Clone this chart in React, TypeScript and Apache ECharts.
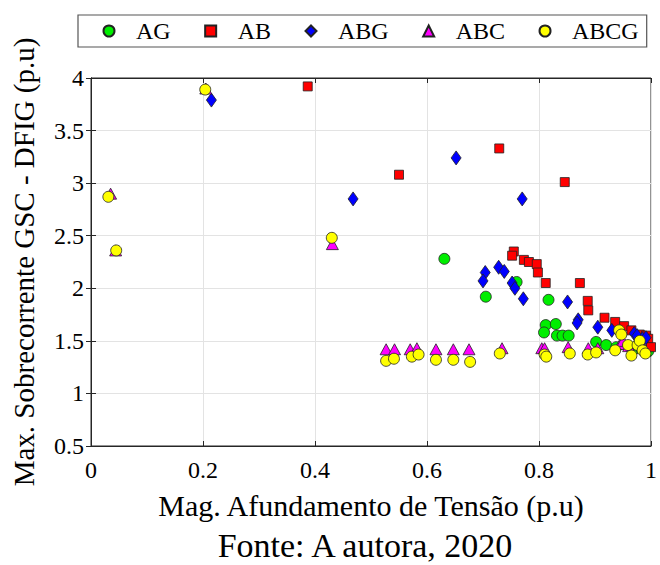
import React, { useEffect, useRef } from "react";
import * as echarts from "echarts";

const seriesNames = ["AG", "AB", "ABG", "ABC", "ABCG"];

const agData = [
  [0.631, 2.28], [0.705, 1.92], [0.76, 2.06], [0.817, 1.89], [0.812, 1.65],
  [0.809, 1.58], [0.83, 1.66], [0.832, 1.55], [0.842, 1.55], [0.853, 1.55],
  [0.902, 1.49], [0.92, 1.46], [0.938, 1.44], [0.96, 1.45], [0.975, 1.43],
  [0.988, 1.41], [0.995, 1.4],
];

const abData = [
  [0.387, 3.92], [0.55, 3.08], [0.729, 3.33], [0.846, 3.01], [0.755, 2.35],
  [0.752, 2.31], [0.773, 2.27], [0.782, 2.25], [0.796, 2.23], [0.798, 2.15],
  [0.812, 2.05], [0.873, 2.05], [0.887, 1.88], [0.888, 1.79], [0.917, 1.72],
  [0.936, 1.68], [0.952, 1.64], [0.965, 1.6], [0.98, 1.56], [0.991, 1.55],
  [0.995, 1.52], [1.0, 1.44],
];

const abgData = [
  [0.215, 3.79], [0.468, 2.85], [0.652, 3.24], [0.77, 2.85], [0.704, 2.15],
  [0.7, 2.07], [0.728, 2.2], [0.738, 2.16], [0.752, 2.05], [0.757, 2.0],
  [0.772, 1.9], [0.851, 1.87], [0.87, 1.7], [0.868, 1.67], [0.905, 1.63],
  [0.93, 1.6], [0.97, 1.57], [0.975, 1.55], [0.985, 1.52], [0.991, 1.53],
];

const abcData = [
  [0.035, 2.9], [0.044, 2.36], [0.205, 3.9], [0.431, 2.42], [0.527, 1.42],
  [0.542, 1.42], [0.57, 1.42], [0.582, 1.43], [0.616, 1.42], [0.647, 1.42],
  [0.675, 1.42], [0.734, 1.43], [0.805, 1.43], [0.81, 1.43], [0.852, 1.44],
  [0.888, 1.43], [0.905, 1.43], [0.945, 1.47], [0.95, 1.5], [0.96, 1.45],
  [0.975, 1.48], [0.985, 1.45],
];

const abcgData = [
  [0.031, 2.87], [0.045, 2.36], [0.204, 3.89], [0.43, 2.48], [0.527, 1.31],
  [0.541, 1.33], [0.573, 1.35], [0.585, 1.37], [0.616, 1.32], [0.647, 1.32],
  [0.677, 1.3], [0.73, 1.38], [0.81, 1.37], [0.813, 1.35], [0.855, 1.38],
  [0.887, 1.37], [0.902, 1.39], [0.936, 1.41], [0.943, 1.6], [0.947, 1.56],
  [0.959, 1.46], [0.965, 1.36], [0.976, 1.46], [0.98, 1.5], [0.985, 1.41],
  [0.99, 1.38],
];

const xAxisTitle = "Mag. Afundamento de Tensão (p.u)";
const yAxisTitle = "Max. Sobrecorrente GSC - DFIG (p.u)";
const sourceText = "Fonte: A autora, 2020";

const FONT = "'Liberation Serif', serif";

export default function App() {
  const ref = useRef<HTMLDivElement>(null);

  useEffect(() => {
    document.body.style.margin = "0";
    if (!ref.current) return;
    const chart = echarts.init(ref.current, undefined, { renderer: "svg" });

    const edge = { borderColor: "#222", borderWidth: 0.8 };
    const mk = (name: string, data: number[][], symbol: string, size: any, color: string) => ({
      name,
      type: "scatter",
      data,
      symbol,
      symbolSize: size,
      itemStyle: { color, opacity: 1, ...edge },
      emphasis: { disabled: true },
    });

    const axisLine = { show: true, lineStyle: { color: "#262626", width: 1 } };
    const tickStyle = { show: true, inside: true, length: 5, lineStyle: { color: "#262626" } };
    const tickLabel = { fontFamily: FONT, fontSize: 24, color: "#000" };

    chart.setOption({
      animation: false,
      backgroundColor: "#fff",
      textStyle: { fontFamily: FONT },
      grid: {
        left: 91, right: 5, top: 78, bottom: 119,
        show: true, borderColor: "#262626", borderWidth: 1, backgroundColor: "transparent",
      },
      legend: {
        data: seriesNames,
        left: 78,
        top: 15,
        width: 565,
        orient: "horizontal",
        itemWidth: 11,
        itemHeight: 11,
        itemGap: 33.5,
        padding: [3, 8, 3, 24.5],
        borderColor: "#555",
        borderWidth: 1.2,
        textStyle: {
          fontFamily: FONT, fontSize: 24, color: "#000", lineHeight: 26,
          padding: [0, 0, 0, 16.5],
        },
      },
      xAxis: [
        {
          type: "value", min: 0, max: 1, interval: 0.2,
          name: xAxisTitle, nameLocation: "middle", nameGap: 44,
          nameTextStyle: { fontFamily: FONT, fontSize: 30, color: "#000" },
          axisLine, axisTick: tickStyle,
          axisLabel: { ...tickLabel, margin: 12 },
          splitLine: { show: true, lineStyle: { color: "#e3e3e3", width: 1 } },
        },
        {
          type: "value", position: "top", min: 0, max: 1, interval: 0.2,
          axisLine, axisTick: tickStyle, axisLabel: { show: false }, splitLine: { show: false },
        },
      ],
      yAxis: [
        {
          type: "value", min: 0.5, max: 4, interval: 0.5,
          name: yAxisTitle, nameLocation: "middle", nameGap: 53,
          nameTextStyle: { fontFamily: FONT, fontSize: 29, color: "#000" },
          axisLine, axisTick: tickStyle,
          axisLabel: { ...tickLabel, margin: 7 },
          splitLine: { show: true, lineStyle: { color: "#e3e3e3", width: 1 } },
        },
        {
          type: "value", position: "right", min: 0.5, max: 4, interval: 0.5,
          axisLine, axisTick: tickStyle, axisLabel: { show: false }, splitLine: { show: false },
        },
      ],
      graphic: [
        {
          type: "text",
          x: 365, y: 545,
          style: {
            text: sourceText, fontFamily: FONT, fontSize: 34, fill: "#000",
            textAlign: "center", textVerticalAlign: "middle",
          },
        },
      ],
      series: [
        mk("AG", agData, "circle", 11, "#00ee00"),
        mk("AB", abData, "rect", 9, "#ff0000"),
        mk("ABG", abgData, "diamond", [10, 14], "#0000ff"),
        mk("ABC", abcData, "triangle", [12, 11], "#ff00ff"),
        mk("ABCG", abcgData, "circle", 11, "#ffff00"),
      ],
    });

    return () => chart.dispose();
  }, []);

  return <div ref={ref} style={{ width: 660, height: 565 }} />;
}
